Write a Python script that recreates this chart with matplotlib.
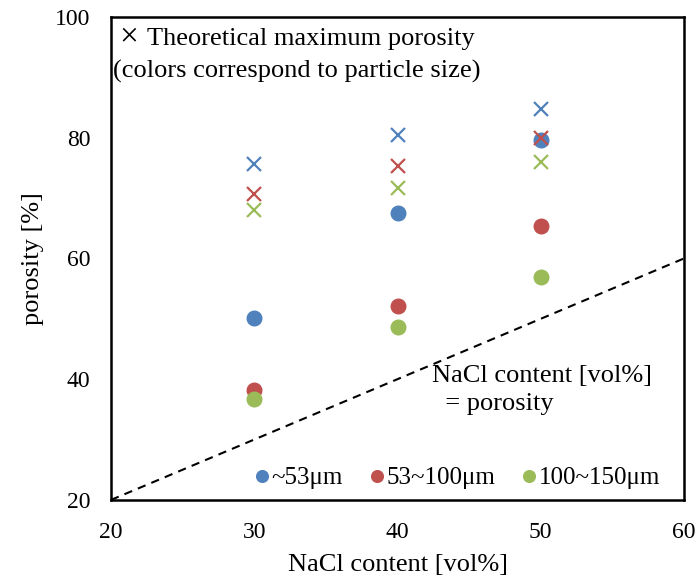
import matplotlib.pyplot as plt

plt.rcParams['font.family'] = ['Liberation Serif', 'DejaVu Serif']

nacl = [30, 40, 50]
labels = ['~53μm', '53~100μm', '100~150μm']
colors = ['#4F81BD', '#C0504D', '#9BBB59']

# measured porosity (circles)
measured = [
    [50.1, 67.6, 79.6],
    [38.2, 52.2, 65.4],
    [36.7, 48.7, 56.9],
]
# theoretical maximum porosity (crosses)
theoretical = [
    [75.7, 80.4, 84.7],
    [70.6, 75.3, 80.0],
    [68.0, 71.7, 76.0],
]
ref_line = [20, 60]

fig = plt.figure(figsize=(6.98, 5.84), dpi=100)
ax = fig.add_axes([0.159, 0.144, 0.821, 0.827])

ax.plot(ref_line, ref_line, color='black', linestyle=(0, (4, 3)), linewidth=1.5)

for i in range(3):
    ax.plot(nacl, measured[i], linestyle='none', marker='o', color=colors[i],
            markersize=10.5, label=labels[i])
for i in range(3):
    ax.plot(nacl, theoretical[i], linestyle='none', marker='x', color=colors[i],
            markersize=10, markeredgewidth=1.6)

ax.set_xlim(20, 60)
ax.set_ylim(20, 100)
ax.set_xticks([20, 30, 40, 50, 60])
ax.set_yticks([20, 40, 60, 80, 100])
ax.tick_params(axis='y', length=0, labelsize=17, pad=15)
ax.tick_params(axis='x', length=0, labelsize=17, pad=16)
for s in ax.spines.values():
    s.set_linewidth(1.8)

ax.set_xlabel('NaCl content [vol%]', fontsize=19, labelpad=8)
ax.set_ylabel('porosity [%]', fontsize=19, labelpad=8)

# note box in the top-left corner
ax.text(0.031, 0.958, '×', transform=ax.transAxes, fontsize=24, va='center', ha='center')
ax.text(0.063, 0.977, 'Theoretical maximum porosity', transform=ax.transAxes,
        fontsize=19, va='top', ha='left')
ax.text(0.004, 0.910, '(colors correspond to particle size)', transform=ax.transAxes,
        fontsize=19, va='top', ha='left')
ax.text(0.56, 0.28, 'NaCl content [vol%]\n  = porosity', transform=ax.transAxes,
        fontsize=19, va='top', ha='left', linespacing=1.4)

ax.legend(loc='lower center', bbox_to_anchor=(0.60, -0.025), ncol=3, frameon=False,
          fontsize=18, handletextpad=-0.1, columnspacing=0.85, handlelength=1.0,
          markerscale=0.8)

fig.savefig('out.png', dpi=100)
